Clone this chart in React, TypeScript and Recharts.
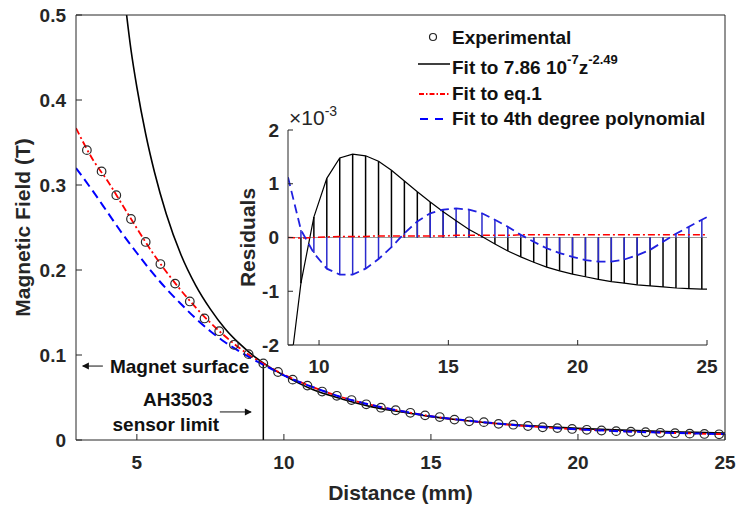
import React from 'react';
import {
  ComposedChart,
  Line,
  Scatter,
  XAxis,
  YAxis,
  ReferenceLine,
  ReferenceDot,
  Legend,
} from 'recharts';

const FONT = '"Liberation Sans", Arial, Helvetica, sans-serif';
const INK = '#262626';

// measured field (distance in mm, field in T)
const expX = [
  3.3, 3.8, 4.3, 4.8, 5.3, 5.8, 6.3, 6.8, 7.3, 7.8, 8.3, 8.8, 9.3, 9.8, 10.3, 10.8, 11.3, 11.8, 12.3, 12.8, 13.3, 13.8,
  14.3, 14.8, 15.3, 15.8, 16.3, 16.8, 17.3, 17.8, 18.3, 18.8, 19.3, 19.8, 20.3, 20.8, 21.3, 21.8, 22.3, 22.8, 23.3,
  23.8, 24.3, 24.8,
];
const expB = [
  0.341, 0.316, 0.288, 0.26, 0.233, 0.207, 0.184, 0.163, 0.143, 0.128, 0.112, 0.101, 0.09, 0.08, 0.071, 0.064, 0.057,
  0.052, 0.047, 0.042, 0.038, 0.035, 0.032, 0.029, 0.027, 0.024, 0.022, 0.021, 0.019, 0.018, 0.0165, 0.015, 0.014,
  0.013, 0.012, 0.0112, 0.0104, 0.0097, 0.0091, 0.0085, 0.008, 0.0075, 0.0071, 0.0067,
];

// power law fit
const powX = [4.55, 4.8, 5.0, 5.3, 5.6, 6.0, 6.5, 7.0, 7.5, 8.0, 8.5, 9.0, 9.5, 10, 11, 12, 13, 14, 15, 16, 17, 18, 19, 20, 21, 22, 23, 24, 25];
const powB = [
  0.53, 0.459, 0.415, 0.36, 0.315, 0.266, 0.218, 0.182, 0.154, 0.131, 0.113, 0.098, 0.086, 0.076, 0.059, 0.048, 0.039,
  0.033, 0.0275, 0.0235, 0.02, 0.0175, 0.0155, 0.0137, 0.0122, 0.011, 0.0099, 0.009, 0.0082,
];

// eq.1 and polynomial fits
const fitX = [2.93, 3.5, 4.0, 4.5, 5.0, 5.5, 6.0, 6.5, 7.0, 7.5, 8.0, 8.5, 9.0, 9.5, 10, 11, 12, 13, 14, 15, 16, 17, 18, 19, 20, 21, 22, 23, 24, 25];
const eq1B = [
  0.367, 0.33, 0.305, 0.277, 0.249, 0.222, 0.198, 0.176, 0.156, 0.138, 0.122, 0.108, 0.096, 0.086, 0.077, 0.062, 0.05,
  0.041, 0.034, 0.028, 0.0235, 0.02, 0.017, 0.0145, 0.0125, 0.011, 0.0097, 0.0086, 0.0076, 0.0068,
];
const polyB = [
  0.32, 0.293, 0.268, 0.243, 0.22, 0.198, 0.178, 0.16, 0.143, 0.128, 0.115, 0.104, 0.094, 0.085, 0.076, 0.062, 0.05,
  0.041, 0.034, 0.028, 0.0237, 0.0202, 0.0172, 0.0146, 0.0125, 0.0109, 0.0096, 0.0086, 0.0077, 0.007,
];

// residuals (x10^-3)
const resX = [
  8.8, 9.3, 9.8, 10.3, 10.8, 11.3, 11.8, 12.3, 12.8, 13.3, 13.8, 14.3, 14.8, 15.3, 15.8, 16.3, 16.8, 17.3, 17.8, 18.3,
  18.8, 19.3, 19.8, 20.3, 20.8, 21.3, 21.8, 22.3, 22.8, 23.3, 23.8, 24.3, 24.8, 25,
];
const resPow = [
  -2.8, -0.85, 0.38, 1.1, 1.48, 1.55, 1.52, 1.42, 1.25, 1.05, 0.85, 0.66, 0.48, 0.31, 0.15, 0.02, -0.12, -0.25, -0.36,
  -0.46, -0.55, -0.62, -0.68, -0.73, -0.78, -0.82, -0.85, -0.88, -0.9, -0.92, -0.94, -0.95, -0.96, -0.96,
];
const resEq1 = [
  0.0, -0.01, 0.0, 0.01, 0.02, 0.02, 0.02, 0.03, 0.03, 0.03, 0.03, 0.03, 0.03, 0.04, 0.04, 0.04, 0.04, 0.04, 0.05, 0.05,
  0.05, 0.05, 0.05, 0.05, 0.05, 0.05, 0.05, 0.05, 0.05, 0.05, 0.05, 0.05, 0.05, 0.05,
];
const resPoly = [
  1.12, 0.14, -0.29, -0.58, -0.69, -0.69, -0.58, -0.4, -0.18, 0.08, 0.3, 0.45, 0.52, 0.54, 0.52, 0.45, 0.33, 0.2, 0.05,
  -0.08, -0.2, -0.29, -0.36, -0.42, -0.45, -0.45, -0.41, -0.33, -0.23, -0.08, 0.07, 0.2, 0.33, 0.38,
];

const xTicks = [5, 10, 15, 20, 25];
const yTicks = [0, 0.1, 0.2, 0.3, 0.4, 0.5];
const insetXTicks = [10, 15, 20, 25];
const insetYTicks = [-2, -1, 0, 1, 2];

const expData = expX.map((x, i) => ({ x, b: expB[i] }));
const powData = powX.map((x, i) => ({ x, b: powB[i] }));
const eq1Data = fitX.map((x, i) => ({ x, b: eq1B[i] }));
const polyData = fitX.map((x, i) => ({ x, b: polyB[i] }));
const resPowData = resX.map((x, i) => ({ x, r: resPow[i] }));
const resEq1Data = resX.map((x, i) => ({ x, r: resEq1[i] }));
const resPolyData = resX.map((x, i) => ({ x, r: resPoly[i] }));
// stems exist only at measured points
const stemIdx = resX.map((_, i) => i).filter((i) => i > 0 && i < resX.length - 1);

const tickStyle = { fontSize: 19, fontWeight: 700, fill: INK, fontFamily: FONT };

const MainYLabel = (p: any) => {
  const vb = p.viewBox;
  const cx = vb.x + 6;
  const cy = vb.y + vb.height / 2;
  return (
    <text x={cx} y={cy} transform={`rotate(-90 ${cx} ${cy})`} textAnchor="middle" dominantBaseline="central"
      fontSize={21} fontWeight={700} fill={INK} fontFamily={FONT}>
      Magnetic Field (T)
    </text>
  );
};

const MainXLabel = (p: any) => {
  const vb = p.viewBox;
  return (
    <text x={vb.x + vb.width / 2} y={vb.y + 52} textAnchor="middle" dominantBaseline="central"
      fontSize={21} fontWeight={700} fill={INK} fontFamily={FONT}>
      Distance (mm)
    </text>
  );
};

const InsetYLabel = (p: any) => {
  const vb = p.viewBox;
  const cx = vb.x + 19;
  const cy = vb.y + vb.height / 2;
  return (
    <g fontFamily={FONT} fill={INK}>
      <text x={cx} y={cy} transform={`rotate(-90 ${cx} ${cy})`} textAnchor="middle" dominantBaseline="central"
        fontSize={21} fontWeight={700}>
        Residuals
      </text>
      <text x={vb.x + vb.width + 1} y={vb.y - 5} fontSize={21}>
        ×10<tspan dy={-9} fontSize={14}>-3</tspan>
      </text>
    </g>
  );
};

const MagnetLabel = (p: any) => {
  const { x, y } = p.viewBox;
  return (
    <g>
      <line x1={x + 1} y1={y} x2={x + 21} y2={y} stroke="#111" strokeWidth={1} />
      <path d={`M${x} ${y} L${x + 7} ${y - 3.5} L${x + 7} ${y + 3.5} Z`} fill="#111" />
      <text x={x + 28} y={y} dominantBaseline="central" fontSize={19} fontWeight={700} fill="#111" fontFamily={FONT}>
        Magnet surface
      </text>
    </g>
  );
};

const SensorLabel = (p: any) => {
  const { x, y } = p.viewBox;
  return (
    <g fontFamily={FONT} fontSize={19} fontWeight={700} fill="#111">
      <text x={x - 74} y={y - 12} textAnchor="middle" dominantBaseline="central">AH3503</text>
      <text x={x - 86} y={y + 13} textAnchor="middle" dominantBaseline="central">sensor limit</text>
      <line x1={x - 32} y1={y} x2={x - 1} y2={y} stroke="#111" strokeWidth={1} />
      <path d={`M${x} ${y} L${x - 7} ${y - 3.5} L${x - 7} ${y + 3.5} Z`} fill="#111" />
    </g>
  );
};

const legendRows = ['Experimental', 'Fit to 7.86 10', 'Fit to eq.1', 'Fit to 4th degree polynomial'];

const renderLegend = () => {
  const ys = [15, 45, 71, 96];
  return (
    <svg width={310} height={110} fontFamily={FONT}>
      <circle cx={23} cy={ys[0]} r={3.5} fill="none" stroke="#222" strokeWidth={1.2} />
      <line x1={8} y1={ys[1] - 3} x2={40} y2={ys[1] - 3} stroke="#000" strokeWidth={1.5} />
      <line x1={9} y1={ys[2] + 1} x2={40} y2={ys[2] + 1} stroke="#ff0000" strokeWidth={1.8} strokeDasharray="5 2 1.5 2" />
      <line x1={10} y1={ys[3] + 1} x2={36} y2={ys[3] + 1} stroke="#0000ff" strokeWidth={2} strokeDasharray="8 7" />
      {legendRows.map((t, i) => (
        <text key={t} x={42} y={ys[i]} dominantBaseline="central" fontSize={19} fontWeight={700} fill="#111">
          {t}
          {i === 1 && (
            <>
              <tspan dy={-8} fontSize={13}>-7</tspan>
              <tspan dy={8} fontSize={19}>z</tspan>
              <tspan dy={-8} fontSize={13}>-2.49</tspan>
            </>
          )}
        </text>
      ))}
    </svg>
  );
};

const MainChart = () => (
  <ComposedChart width={736} height={506} margin={{ top: 14, right: 10, bottom: 10, left: 16 }}>
    <XAxis xAxisId="b" type="number" dataKey="x" domain={[2.93, 25]} ticks={xTicks} allowDataOverflow height={56}
      tickSize={-6} tickMargin={22} stroke={INK} tick={tickStyle} label={MainXLabel} />
    <XAxis xAxisId="t" orientation="top" type="number" dataKey="x" domain={[2.93, 25]} ticks={xTicks}
      allowDataOverflow height={1} tickSize={-6} stroke={INK} tick={false} />
    <YAxis yAxisId="l" type="number" dataKey="b" domain={[0, 0.5]} ticks={yTicks} allowDataOverflow width={60}
      tickSize={-6} tickMargin={16} stroke={INK} tick={tickStyle} label={MainYLabel} />
    <YAxis yAxisId="r" orientation="right" type="number" dataKey="b" domain={[0, 0.5]} ticks={yTicks}
      allowDataOverflow width={1} tickSize={-6} stroke={INK} tick={false} />
    <Legend content={renderLegend} layout="vertical" align="center" verticalAlign="middle"
      wrapperStyle={{ left: 410, top: 22, width: 310, height: 110 }} />
    <Scatter xAxisId="b" yAxisId="l" data={expData} isAnimationActive={false} legendType="none"
      shape={(p: any) => <circle cx={p.cx} cy={p.cy} r={4.3} fill="none" stroke="#2a2a2a" strokeWidth={1.2} />} />
    <ReferenceLine xAxisId="b" yAxisId="l" segment={[{ x: 9.3, y: 0 }, { x: 9.3, y: 0.09 }]} stroke="#000" strokeWidth={1.5} />
    <Line xAxisId="b" yAxisId="l" data={powData} dataKey="b" type="monotone" stroke="#000" strokeWidth={1.6}
      dot={false} isAnimationActive={false} />
    <Line xAxisId="b" yAxisId="l" data={eq1Data} dataKey="b" type="monotone" stroke="#ff0000" strokeWidth={1.8}
      strokeDasharray="7 3 2 3" dot={false} isAnimationActive={false} />
    <Line xAxisId="b" yAxisId="l" data={polyData} dataKey="b" type="monotone" stroke="#0000ff" strokeWidth={2}
      strokeDasharray="9 5" dot={false} isAnimationActive={false} />
    <ReferenceDot xAxisId="b" yAxisId="l" x={3.13} y={0.087} r={0} fill="none" stroke="none" label={MagnetLabel} />
    <ReferenceDot xAxisId="b" yAxisId="l" x={8.91} y={0.033} r={0} fill="none" stroke="none" label={SensorLabel} />
  </ComposedChart>
);

const InsetChart = () => (
  <ComposedChart width={520} height={290} margin={{ top: 30, right: 13, bottom: 10, left: 28 }}>
    <XAxis type="number" dataKey="x" domain={[8.8, 25]} ticks={insetXTicks} allowDataOverflow height={35}
      tickSize={-5} tickMargin={20} stroke={INK} tick={tickStyle} />
    <YAxis type="number" dataKey="r" domain={[-2, 2]} ticks={insetYTicks} allowDataOverflow width={60}
      tickSize={-5} tickMargin={14} stroke={INK} tick={tickStyle} label={InsetYLabel} />
    <ReferenceLine y={0} stroke="#9a9a9a" strokeWidth={1} />
    {stemIdx.map((i) => (
      <ReferenceLine key={`pw${i}`} segment={[{ x: resX[i], y: 0 }, { x: resX[i], y: resPow[i] }]}
        stroke="#000" strokeWidth={1.5} />
    ))}
    {stemIdx.map((i) => (
      <ReferenceLine key={`pl${i}`} segment={[{ x: resX[i], y: 0 }, { x: resX[i], y: resPoly[i] }]}
        stroke="#2a2acc" strokeWidth={1.5} />
    ))}
    <Line data={resPowData} dataKey="r" type="linear" stroke="#000" strokeWidth={1.2} dot={false}
      isAnimationActive={false} />
    <Line data={resEq1Data} dataKey="r" type="linear" stroke="#ff0000" strokeWidth={1.5} strokeDasharray="7 3 2 3"
      dot={false} isAnimationActive={false} />
    <Line data={resPolyData} dataKey="r" type="linear" stroke="#2020e0" strokeWidth={1.8} strokeDasharray="9 5"
      dot={false} isAnimationActive={false} />
  </ComposedChart>
);

export default function App() {
  return (
    <div style={{ position: 'absolute', left: 0, top: 0, width: 736, height: 506, background: '#fff', fontFamily: FONT }}>
      <div style={{ position: 'absolute', left: 0, top: 0 }}>
        <MainChart />
      </div>
      <div style={{ position: 'absolute', left: 200, top: 100 }}>
        <InsetChart />
      </div>
    </div>
  );
}
